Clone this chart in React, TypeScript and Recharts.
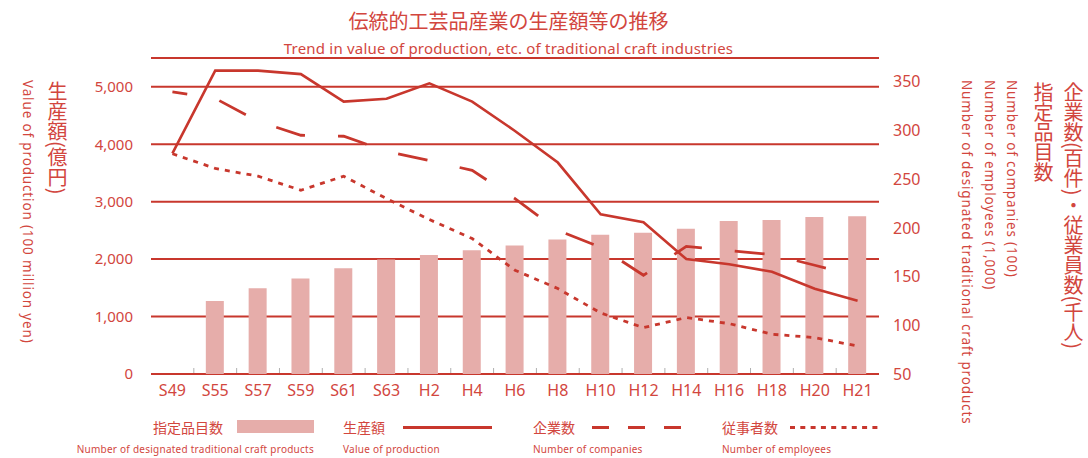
import React from 'react';
import { ComposedChart, Bar, Line, XAxis, YAxis, CartesianGrid } from 'recharts';

const categories = ['S49', 'S55', 'S57', 'S59', 'S61', 'S63', 'H2', 'H4', 'H6', 'H8', 'H10', 'H12', 'H14', 'H16', 'H18', 'H20', 'H21'];
// 生産額 (億円) — left axis
const production = [3840, 5280, 5280, 5220, 4740, 4790, 5060, 4740, 4230, 3680, 2780, 2640, 2000, 1910, 1780, 1485, 1275];
// 企業数 (百件) — right axis
const companies = [339.5, 332.8, 309.4, 295, 294, 278.6, 269, 259, 230, 197.5, 180, 151.3, 181, 176.7, 172.6, 161.6, 150.3];
// 従事者数 (千人) — right axis
const employees = [276, 261, 253, 238.6, 253, 230, 208.5, 189, 156.5, 137.7, 112.6, 97.6, 107.9, 101.7, 90.8, 87.4, 78.7];
// 指定品目数 — right axis
const designated: (number | null)[] = [null, 125, 138, 148, 158.5, 167.5, 172, 177, 182, 188, 193, 195, 199, 207, 208, 211, 212];

const leftTicks = [0, 1000, 2000, 3000, 4000, 5000];
const rightTicks = [50, 100, 150, 200, 250, 300, 350];

const data = categories.map((c, i) => ({
  cat: c,
  production: production[i],
  companies: companies[i],
  employees: employees[i],
  designated: designated[i],
}));

const RED = '#c8372d';
const TEXT = '#d2463e';
const BAR = '#e6adaa';
const FONT_JP = '"Noto Sans CJK JP", "Noto Sans", sans-serif';
const FONT_LAT = '"Noto Sans", "Noto Sans CJK JP", sans-serif';

const W = 1088;
const H = 458;
const MARGIN = { top: 58, right: 149, bottom: 54, left: 0 };
const LEFT_W = 151;
const RIGHT_W = 60;
const X_H = 30;
const HALF_BAND = (W - MARGIN.right - RIGHT_W - LEFT_W) / categories.length / 2;

const XTick = (props: any) => {
  const { x, y, payload, index } = props;
  const off = payload && typeof payload.offset === 'number' && payload.offset > 0 ? payload.offset : HALF_BAND;
  return (
    <g>
      {index > 0 && (
        <line x1={x - off} x2={x - off} y1={y - 6} y2={y - 1} stroke="#b0b0b0" strokeWidth={1} />
      )}
      <text x={x} y={y + 16} dy="0.355em" textAnchor="middle" fill={TEXT} fontSize={16} fontFamily={FONT_LAT}>
        {payload.value}
      </text>
    </g>
  );
};

const vText = (text: string, cx: number, top: number, size: number, font: string, spacing = 0) => (
  <div
    style={{
      position: 'absolute',
      left: cx - size / 2,
      top,
      width: size,
      writingMode: 'vertical-rl',
      fontSize: size,
      lineHeight: `${size}px`,
      fontFamily: font,
      letterSpacing: spacing,
      color: TEXT,
      whiteSpace: 'nowrap',
    }}
  >
    {text}
  </div>
);

const hText = (text: string, font: string, style: React.CSSProperties) => (
  <div
    style={{
      position: 'absolute',
      fontFamily: font,
      color: TEXT,
      whiteSpace: 'nowrap',
      lineHeight: 1,
      ...style,
    }}
  >
    {text}
  </div>
);

export default function App() {
  return (
    <div style={{ position: 'absolute', left: 0, top: 0, width: W, height: H, background: '#fff', overflow: 'hidden' }}>
      <ComposedChart width={W} height={H} data={data} margin={MARGIN}>
        <XAxis
          dataKey="cat"
          interval={0}
          height={X_H}
          axisLine={false}
          tickLine={false}
          tickSize={0}
          tickMargin={0}
          tick={<XTick />}
        />
        <YAxis
          yAxisId="left"
          orientation="left"
          width={LEFT_W}
          domain={[0, 5500]}
          ticks={leftTicks}
          axisLine={false}
          tickLine={false}
          tickSize={0}
          tickMargin={18}
          tickFormatter={(v: number) => v.toLocaleString('en-US')}
          tick={{ fill: TEXT, fontSize: 15, fontFamily: FONT_LAT }}
        />
        <YAxis
          yAxisId="right"
          orientation="right"
          width={RIGHT_W}
          domain={[50, 374.3]}
          ticks={rightTicks}
          axisLine={false}
          tickLine={false}
          tickSize={0}
          tickMargin={14}
          tick={{ fill: TEXT, fontSize: 16, fontFamily: FONT_LAT }}
        />
        <Bar yAxisId="right" dataKey="designated" fill={BAR} barSize={18} isAnimationActive={false} />
        <CartesianGrid yAxisId="left" vertical={false} stroke={RED} strokeWidth={2} />
        <Line
          yAxisId="left"
          type="linear"
          dataKey="production"
          stroke={RED}
          strokeWidth={2.6}
          dot={false}
          activeDot={false}
          isAnimationActive={false}
        />
        <Line
          yAxisId="right"
          type="linear"
          dataKey="companies"
          stroke={RED}
          strokeWidth={2.8}
          strokeDasharray="30 33"
          strokeDashoffset={15}
          dot={false}
          activeDot={false}
          isAnimationActive={false}
        />
        <Line
          yAxisId="right"
          type="linear"
          dataKey="employees"
          stroke={RED}
          strokeWidth={2.8}
          strokeDasharray="5 6"
          dot={false}
          activeDot={false}
          isAnimationActive={false}
        />
      </ComposedChart>

      {/* Titles */}
      {hText('伝統的工芸品産業の生産額等の推移', FONT_JP, { left: 0, width: 1017, top: 11, fontSize: 20, textAlign: 'center' })}
      {hText('Trend in value of production, etc. of traditional craft industries', FONT_LAT, { left: 0, width: 1017, top: 41, fontSize: 15, letterSpacing: 0.2, textAlign: 'center' })}

      {/* Left axis titles */}
      {vText('Value of production (100 million yen)', 27, 80, 13.5, FONT_LAT, 0.85)}
      {vText('生産額(億円)', 57, 81, 20, FONT_JP)}

      {/* Right axis titles */}
      {vText('Number of designated traditional craft products', 966, 80, 13.5, FONT_LAT, 0.85)}
      {vText('Number of employees (1,000)', 989, 80, 13.5, FONT_LAT, 0.85)}
      {vText('Number of companies (100)', 1011, 80, 13.5, FONT_LAT, 0.85)}
      {vText('指定品目数', 1043, 82, 20, FONT_JP)}
      {vText('企業数(百件)・従業員数(千人)', 1073, 82, 20, FONT_JP)}

      {/* Legend */}
      <svg style={{ position: 'absolute', left: 0, top: 0 }} width={W} height={H}>
        <rect x={237} y={420} width={77} height={13} fill={BAR} />
        <line x1={403} x2={492} y1={427.5} y2={427.5} stroke={RED} strokeWidth={3} />
        <line x1={592} x2={682} y1={427.5} y2={427.5} stroke={RED} strokeWidth={3} strokeDasharray="17 19" />
        <line x1={790} x2={880} y1={427.5} y2={427.5} stroke={RED} strokeWidth={3} strokeDasharray="5 5.3" />
      </svg>
      {hText('指定品目数', FONT_JP, { right: W - 223, top: 420, fontSize: 14 })}
      {hText('Number of designated traditional craft products', FONT_LAT, { right: W - 314, top: 444, fontSize: 10, letterSpacing: 0.25 })}
      {hText('生産額', FONT_JP, { left: 343, top: 420, fontSize: 14 })}
      {hText('Value of production', FONT_LAT, { left: 343, top: 444, fontSize: 10, letterSpacing: 0.25 })}
      {hText('企業数', FONT_JP, { left: 533, top: 420, fontSize: 14 })}
      {hText('Number of companies', FONT_LAT, { left: 533, top: 444, fontSize: 10, letterSpacing: 0.25 })}
      {hText('従事者数', FONT_JP, { left: 722, top: 420, fontSize: 14 })}
      {hText('Number of employees', FONT_LAT, { left: 722, top: 444, fontSize: 10, letterSpacing: 0.25 })}
    </div>
  );
}
